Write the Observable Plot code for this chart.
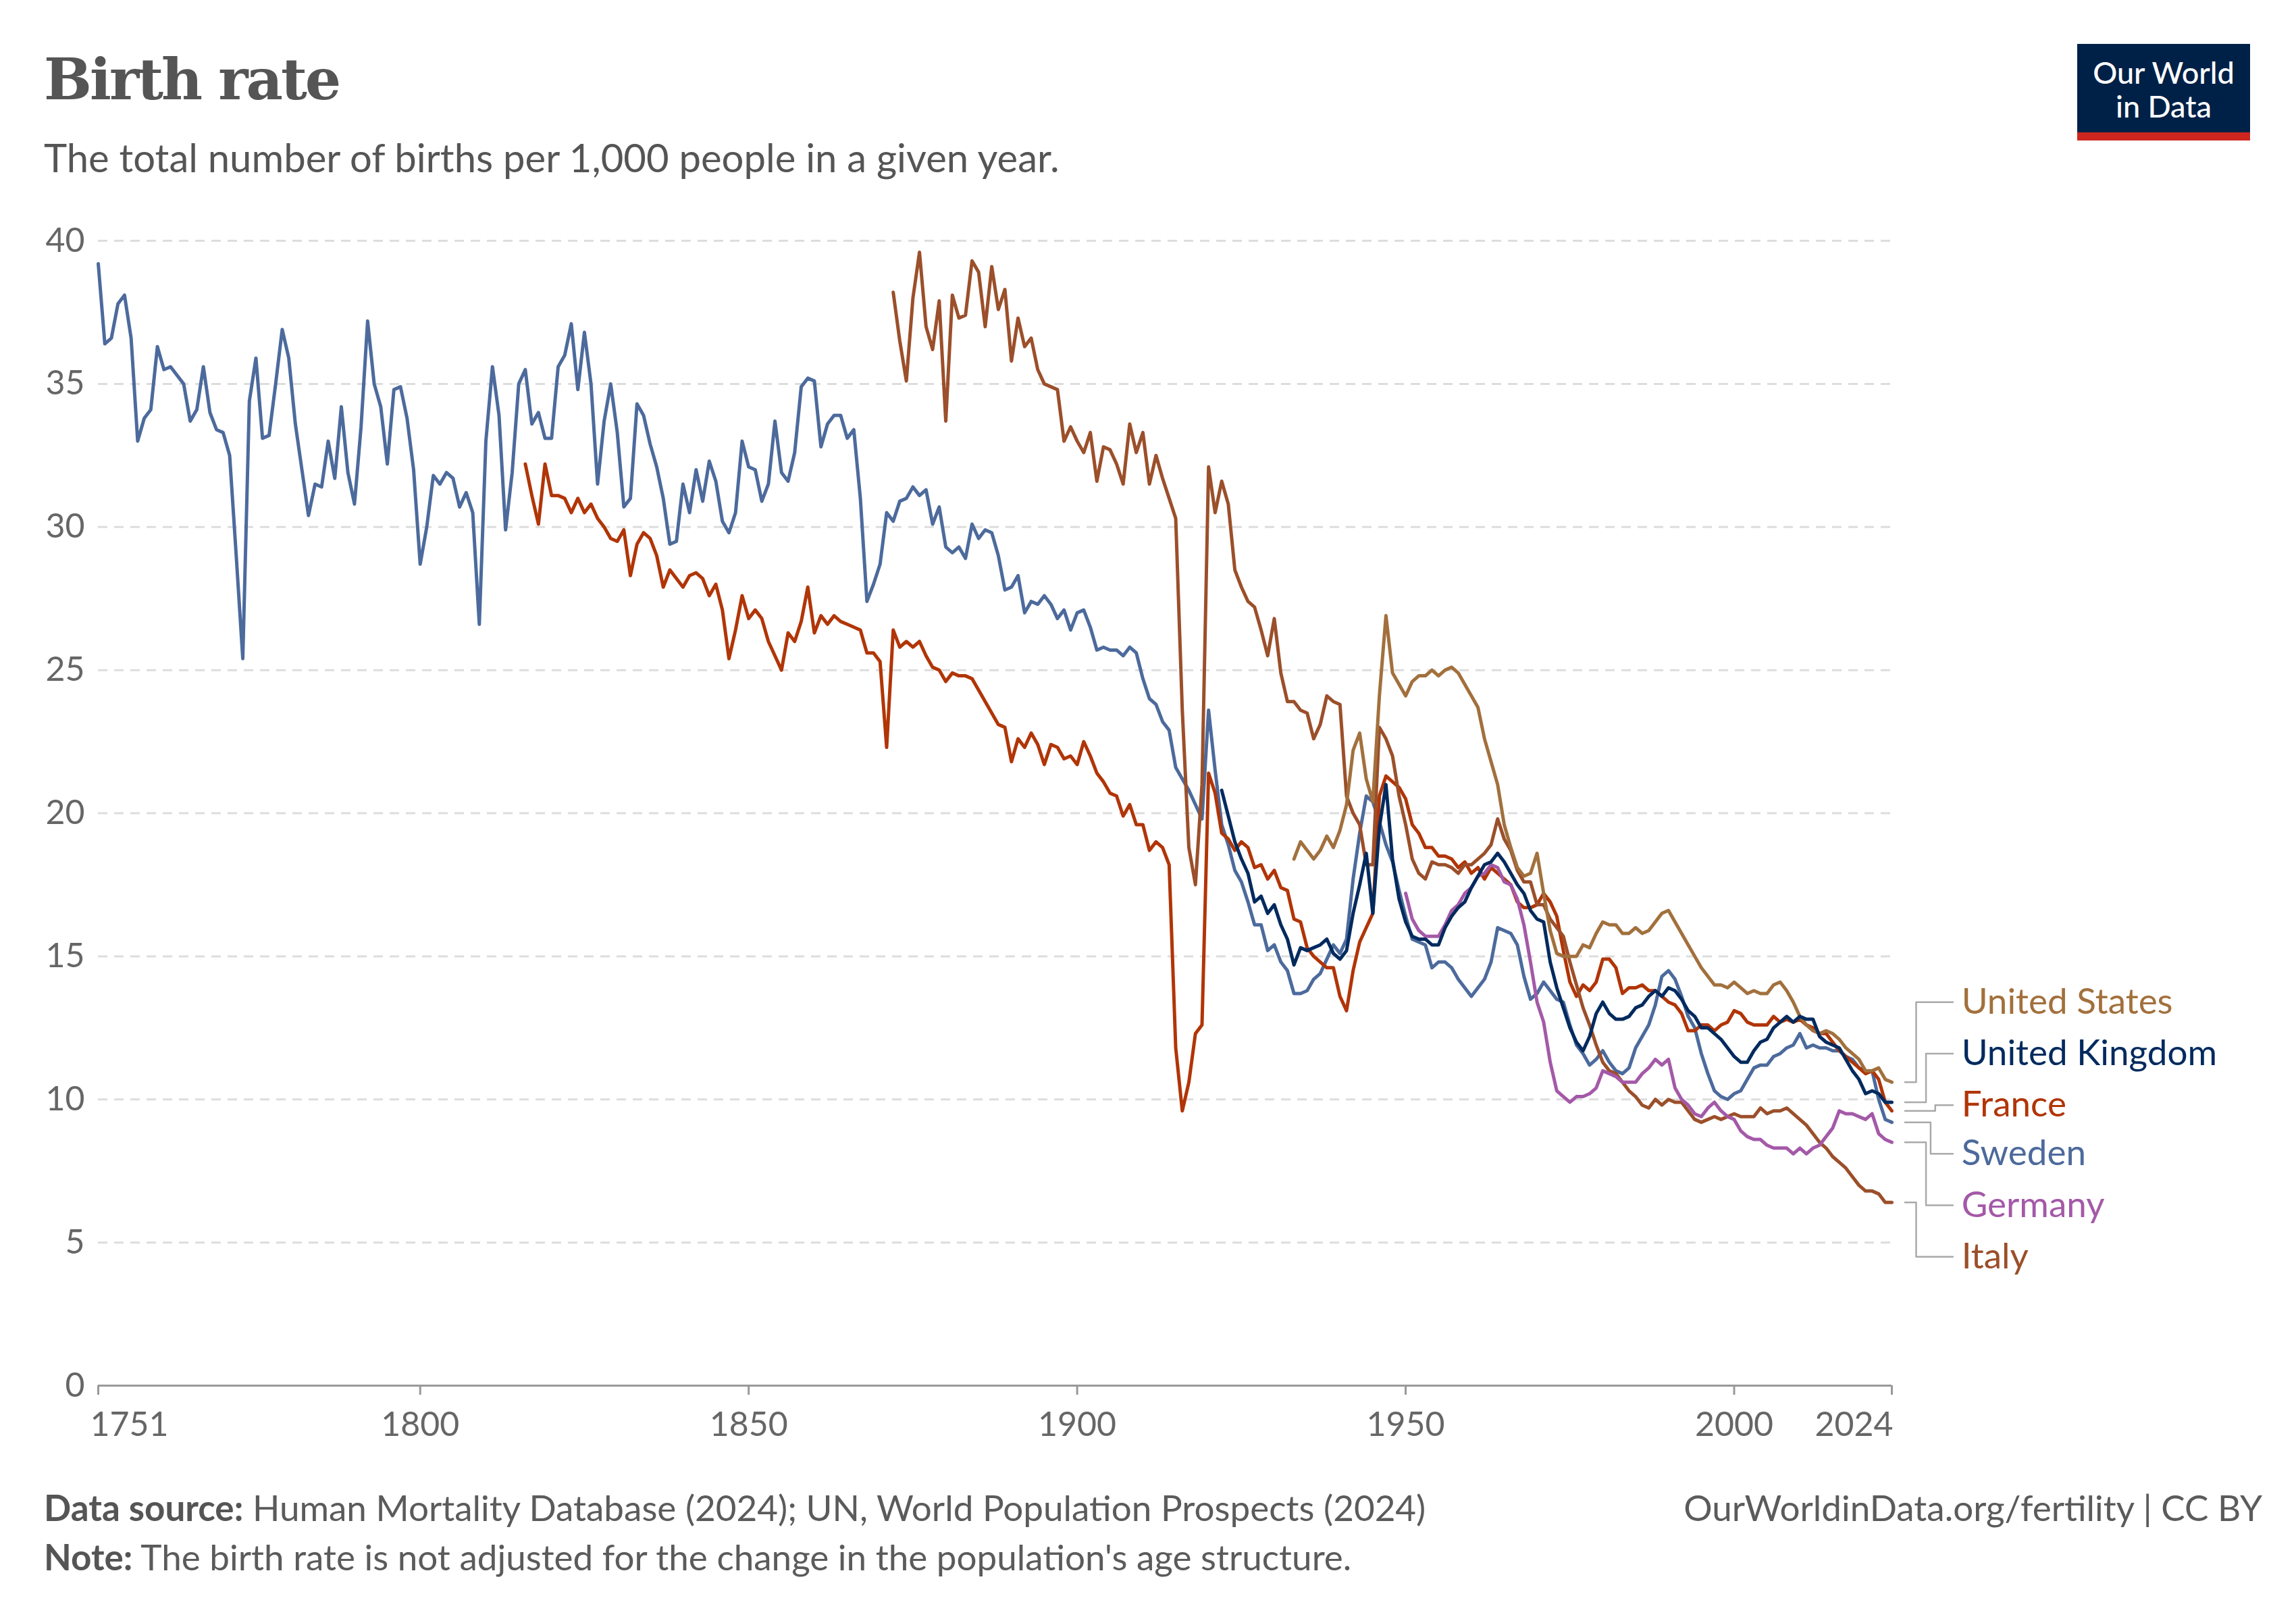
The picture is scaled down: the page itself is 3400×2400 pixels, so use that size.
<!DOCTYPE html>
<html><head><meta charset="utf-8">
<script src="https://cdn.jsdelivr.net/npm/d3@7"></script>
<script src="https://cdn.jsdelivr.net/npm/@observablehq/plot@0.6"></script>
<style>
body{margin:0;background:#fff;width:3400px;height:2400px;position:relative;font-family:Lato,sans-serif;}
#title{position:absolute;left:65px;top:68px;font-family:"DejaVu Serif",serif;font-weight:bold;font-size:84px;color:#555;letter-spacing:-3px}
#sub{position:absolute;left:65px;top:198px;font-size:58px;color:#555}
#chart{position:absolute;left:0;top:290px}
#logo{position:absolute;left:3076px;top:65px;width:256px;height:143px;background:#002147;border-bottom:12px solid #ce261e;box-sizing:border-box;color:#fff;text-align:center;font-size:45px;line-height:50px;padding-top:17px;font-weight:500}
.foot{position:absolute;font-size:53px;color:#5b5b5b}
.foot b{color:#555}
</style></head><body>
<div id="title">Birth rate</div>
<div id="sub">The total number of births per 1,000 people in a given year.</div>
<div id="logo">Our World<br>in Data</div>
<div id="chart"></div>
<div class="foot" style="left:65px;top:2200px"><b>Data source:</b> Human Mortality Database (2024); UN, World Population Prospects (2024)</div>
<div class="foot" style="left:65px;top:2273px"><b>Note:</b> The birth rate is not adjusted for the change in the population's age structure.</div>
<div class="foot" style="right:50px;top:2200px">OurWorldinData.org/fertility | CC BY</div>
<script>
const countries = ["United States","United Kingdom","France","Sweden","Germany","Italy"];
const colors = ["#a2703d","#002a5e","#b13507","#4c6a9c","#a459a8","#9b4f2a"];
const startYears = [1933,1922,1816,1751,1950,1872];
const labelValues = [13.4,11.6,9.8,8.1,6.3,4.5];
const elbowYears = [2027.7,2029.2,2030.6,2029.9,2029.2,2027.7];
const yTicks = [0,5,10,15,20,25,30,35,40];
const xTicks = [1751,1800,1850,1900,1950,2000,2024];

const usValues = [18.4,19.0,18.7,18.4,18.7,19.2,18.8,19.4,20.3,22.2,22.8,21.2,20.4,24.1,26.9,24.9,24.5,24.1,24.6,24.8,24.8,25.0,24.8,25.0,25.1,24.9,24.5,24.1,23.7,22.6,21.8,21.0,19.6,18.8,18.1,17.8,17.9,18.6,17.2,15.9,15.1,15.0,15.0,15.0,15.4,15.3,15.8,16.2,16.1,16.1,15.8,15.8,16.0,15.8,15.9,16.2,16.5,16.6,16.2,15.8,15.4,15.0,14.6,14.3,14.0,14.0,13.9,14.1,13.9,13.7,13.8,13.7,13.7,14.0,14.1,13.8,13.4,12.9,12.6,12.4,12.3,12.4,12.3,12.1,11.8,11.6,11.4,11.0,11.0,11.1,10.7,10.6];
const ukValues = [20.8,19.9,19.0,18.4,17.9,16.9,17.1,16.5,16.8,16.1,15.6,14.7,15.3,15.2,15.3,15.4,15.6,15.1,14.9,15.2,16.5,17.5,18.6,16.5,19.5,21.0,18.4,17.0,16.2,15.7,15.6,15.6,15.4,15.4,16.0,16.4,16.7,16.9,17.4,17.8,18.2,18.3,18.6,18.3,17.9,17.5,17.2,16.6,16.3,16.2,14.8,13.9,13.2,12.5,12.0,11.7,12.2,13.0,13.4,13.0,12.8,12.8,12.9,13.2,13.3,13.6,13.8,13.6,13.9,13.8,13.5,13.1,12.9,12.5,12.5,12.3,12.1,11.8,11.5,11.3,11.3,11.7,12.0,12.1,12.5,12.7,12.9,12.7,12.9,12.8,12.8,12.2,12.0,11.9,11.8,11.4,11.0,10.7,10.2,10.3,10.2,9.9,9.9];
const franceValues = [32.2,31.1,30.1,32.2,31.1,31.1,31.0,30.5,31.0,30.5,30.8,30.3,30.0,29.6,29.5,29.9,28.3,29.4,29.8,29.6,29.0,27.9,28.5,28.2,27.9,28.3,28.4,28.2,27.6,28.0,27.1,25.4,26.4,27.6,26.8,27.1,26.8,26.0,25.5,25.0,26.3,26.0,26.7,27.9,26.3,26.9,26.6,26.9,26.7,26.6,26.5,26.4,25.6,25.6,25.3,22.3,26.4,25.8,26.0,25.8,26.0,25.5,25.1,25.0,24.6,24.9,24.8,24.8,24.7,24.3,23.9,23.5,23.1,23.0,21.8,22.6,22.3,22.8,22.4,21.7,22.4,22.3,21.9,22.0,21.7,22.5,22.0,21.4,21.1,20.7,20.6,19.9,20.3,19.6,19.6,18.7,19.0,18.8,18.2,11.8,9.6,10.6,12.3,12.6,21.4,20.7,19.3,19.1,18.7,19.0,18.8,18.1,18.2,17.7,18.0,17.4,17.3,16.3,16.2,15.3,15.0,14.8,14.6,14.6,13.6,13.1,14.5,15.5,16.0,16.5,20.6,21.3,21.1,20.9,20.5,19.6,19.3,18.8,18.8,18.5,18.5,18.4,18.1,18.3,17.9,18.1,17.7,18.1,17.9,17.7,17.5,16.9,16.7,16.7,16.8,17.2,16.9,16.4,15.2,14.1,13.6,14.0,13.8,14.1,14.9,14.9,14.6,13.7,13.9,13.9,14.0,13.8,13.8,13.6,13.4,13.3,13.0,12.4,12.4,12.6,12.6,12.4,12.6,12.7,13.1,13.0,12.7,12.6,12.6,12.6,12.9,12.7,12.8,12.7,12.8,12.6,12.5,12.3,12.3,12.0,11.7,11.5,11.3,11.1,10.9,11.0,10.7,9.9,9.6];
const swedenValues = [39.2,36.4,36.6,37.8,38.1,36.6,33.0,33.8,34.1,36.3,35.5,35.6,35.3,35.0,33.7,34.1,35.6,34.0,33.4,33.3,32.5,29.0,25.4,34.4,35.9,33.1,33.2,35.0,36.9,35.9,33.6,32.0,30.4,31.5,31.4,33.0,31.7,34.2,31.9,30.8,33.5,37.2,35.0,34.2,32.2,34.8,34.9,33.8,32.0,28.7,30.0,31.8,31.5,31.9,31.7,30.7,31.2,30.5,26.6,33.0,35.6,33.9,29.9,31.9,35.0,35.5,33.6,34.0,33.1,33.1,35.6,36.0,37.1,34.8,36.8,35.0,31.5,33.7,35.0,33.3,30.7,31.0,34.3,33.9,32.9,32.1,31.0,29.4,29.5,31.5,30.5,32.0,30.9,32.3,31.6,30.2,29.8,30.5,33.0,32.1,32.0,30.9,31.5,33.7,31.9,31.6,32.6,34.9,35.2,35.1,32.8,33.6,33.9,33.9,33.1,33.4,31.0,27.4,28.0,28.7,30.5,30.2,30.9,31.0,31.4,31.1,31.3,30.1,30.7,29.3,29.1,29.3,28.9,30.1,29.6,29.9,29.8,29.0,27.8,27.9,28.3,27.0,27.4,27.3,27.6,27.3,26.8,27.1,26.4,27.0,27.1,26.5,25.7,25.8,25.7,25.7,25.5,25.8,25.6,24.7,24.0,23.8,23.2,22.9,21.6,21.2,20.8,20.3,19.8,23.6,21.5,19.6,18.9,18.0,17.6,16.9,16.1,16.1,15.2,15.4,14.8,14.5,13.7,13.7,13.8,14.2,14.4,14.9,15.4,15.1,15.6,17.7,19.3,20.6,20.4,19.7,18.9,18.3,17.3,16.4,15.6,15.5,15.4,14.6,14.8,14.8,14.6,14.2,13.9,13.6,13.9,14.2,14.8,16.0,15.9,15.8,15.4,14.3,13.5,13.7,14.1,13.8,13.5,13.4,12.6,11.9,11.6,11.2,11.4,11.7,11.3,11.0,10.9,11.1,11.8,12.2,12.6,13.3,14.3,14.5,14.2,13.6,12.9,12.5,11.6,10.9,10.3,10.1,10.0,10.2,10.3,10.7,11.1,11.2,11.2,11.5,11.6,11.8,11.9,12.3,11.8,11.9,11.8,11.8,11.7,11.7,11.5,11.4,11.1,11.0,11.0,10.0,9.3,9.2];
const germanyValues = [17.2,16.3,15.9,15.7,15.7,15.7,16.1,16.6,16.8,17.2,17.4,17.8,17.9,18.2,18.1,17.6,17.5,17.0,16.1,14.8,13.4,12.7,11.3,10.3,10.1,9.9,10.1,10.1,10.2,10.4,11.0,10.9,10.8,10.6,10.6,10.6,10.9,11.1,11.4,11.2,11.4,10.4,10.0,9.8,9.5,9.4,9.7,9.9,9.6,9.4,9.3,8.9,8.7,8.6,8.6,8.4,8.3,8.3,8.3,8.1,8.3,8.1,8.3,8.4,8.7,9.0,9.6,9.5,9.5,9.4,9.3,9.5,8.8,8.6,8.5];
const italyValues = [38.2,36.5,35.1,38.0,39.6,37.0,36.2,37.9,33.7,38.1,37.3,37.4,39.3,38.9,37.0,39.1,37.6,38.3,35.8,37.3,36.3,36.6,35.5,35.0,34.9,34.8,33.0,33.5,33.0,32.6,33.3,31.6,32.8,32.7,32.2,31.5,33.6,32.6,33.3,31.5,32.5,31.7,31.0,30.3,23.6,18.8,17.5,21.0,32.1,30.5,31.6,30.8,28.5,27.9,27.4,27.2,26.4,25.5,26.8,24.9,23.9,23.9,23.6,23.5,22.6,23.1,24.1,23.9,23.8,20.6,20.0,19.6,18.2,18.2,23.0,22.6,22.0,20.6,19.6,18.4,17.9,17.7,18.3,18.2,18.2,18.1,17.9,18.2,18.2,18.4,18.6,18.9,19.8,19.1,18.7,18.0,17.6,17.6,16.8,16.8,16.3,16.0,15.7,14.8,14.0,13.2,12.6,11.9,11.3,11.0,10.9,10.6,10.3,10.1,9.8,9.7,10.0,9.8,10.0,9.9,9.9,9.6,9.3,9.2,9.3,9.4,9.3,9.4,9.5,9.4,9.4,9.4,9.7,9.5,9.6,9.6,9.7,9.5,9.3,9.1,8.8,8.5,8.3,8.0,7.8,7.6,7.3,7.0,6.8,6.8,6.7,6.4,6.4];

const seriesValues = [usValues,ukValues,franceValues,swedenValues,germanyValues,italyValues];
const rows = [];
countries.forEach((c,i)=>seriesValues[i].forEach((v,j)=>rows.push({country:c,year:startYears[i]+j,value:v})));
const connectors = [];
countries.forEach((c,i)=>{
  const vals = seriesValues[i], end = vals[vals.length-1];
  [[2026,end],[elbowYears[i],end],[elbowYears[i],labelValues[i]],[2033.3,labelValues[i]]]
    .forEach(([x,y])=>connectors.push({country:c,x,y}));
});
const tickLabels = xTicks.map((t,i)=>({t,anchor:i===0?"start":i===xTicks.length-1?"end":"middle",dx:i===0?-12:i===xTicks.length-1?2:0}));

const chart = Plot.plot({
  width:3400, height:1860,
  marginLeft:145, marginRight:599, marginTop:66, marginBottom:99,
  style:{fontFamily:"Lato, sans-serif", fontSize:"50px", color:"#666", background:"transparent"},
  x:{domain:[1751,2024]},
  y:{domain:[0,40]},
  color:{domain:countries, range:colors},
  marks:[
    Plot.ruleY(yTicks.filter(d=>d>0),{stroke:"#ddd",strokeWidth:3,strokeDasharray:"14,10"}),
    Plot.axisY(yTicks,{tickSize:0,tickPadding:0,dx:-20,fontSize:50,fill:"#666",label:null}),
    Plot.ruleY([0],{stroke:"#999",strokeWidth:3}),
    Plot.axisX(xTicks,{tickSize:14,stroke:"#999",strokeWidth:3,tickFormat:()=>"",label:null}),
    ...tickLabels.map(d=>Plot.text([d],{x:"t",y:0,text:d=>String(d.t),textAnchor:d.anchor,dx:d.dx,dy:58,fontSize:50,fill:"#666"})),
    ...["Sweden","France","Italy","United States","Germany","United Kingdom"].map(c=>
      Plot.line(rows.filter(r=>r.country===c),{x:"year",y:"value",stroke:"country",strokeWidth:5,strokeLinejoin:"round"})),
    Plot.line(connectors,{x:"x",y:"y",z:"country",stroke:"#aaa",strokeWidth:2.5}),
    Plot.text(countries.map((c,i)=>({c,v:labelValues[i]})),{x:()=>2034.6,y:"v",text:"c",fill:"c",textAnchor:"start",fontSize:53})
  ]
});
document.getElementById("chart").appendChild(chart);
</script>
</body></html>
